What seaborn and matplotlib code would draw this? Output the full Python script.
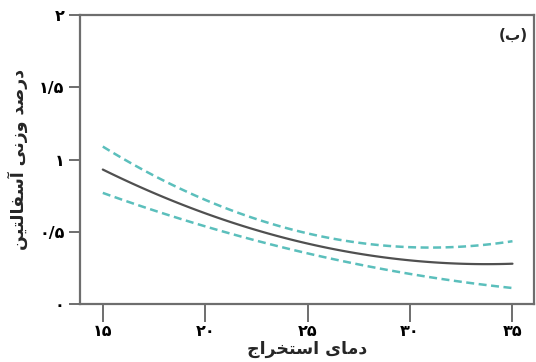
import matplotlib
matplotlib.use("Agg")
import matplotlib.pyplot as plt
import seaborn as sns
import pandas as pd

# Extraction temperature (°C)
temperature = [15, 17.5, 20, 22.5, 25, 27.5, 30, 32.5, 35]
# Asphaltene weight percent and its confidence bounds
fit_mean = [0.93, 0.77, 0.63, 0.51, 0.42, 0.35, 0.30, 0.28, 0.28]
fit_upper = [1.09, 0.89, 0.72, 0.59, 0.49, 0.425, 0.39, 0.40, 0.435]
fit_lower = [0.77, 0.65, 0.535, 0.44, 0.35, 0.275, 0.21, 0.155, 0.11]

x_ticks = [15, 20, 25, 30, 35]
x_tick_labels = ["۱۵", "۲۰", "۲۵", "۳۰", "۳۵"]
y_ticks = [0, 0.5, 1, 1.5, 2]
y_tick_labels = ["۰", "۰/۵", "۱", "۱/۵", "۲"]

# Persian labels written with presentation forms in visual (left-to-right) order
x_label = "\uFE9D\uFE8D\uFEAE\uFEA8\uFE98\uFEB3\uFE8D \uFEEF\uFE8E\uFEE3\uFEA9"
_y_logical = ("\uFEA9\uFEAD\uFEBB\uFEAA " "\uFEED\uFEAF\uFEE7\uFEF0 "
              "\uFE81\uFEB3\uFED4\uFE8E\uFEDF\uFE98\uFEF4\uFEE6")
y_label = _y_logical[::-1]
panel_label = "(\uFE8F)"

sns.set_theme(style="white")
plt.rcParams["font.family"] = ["DejaVu Sans"]

df = pd.DataFrame({"temp": temperature, "mean": fit_mean,
                   "upper": fit_upper, "lower": fit_lower})

fig = plt.figure(figsize=(5.36, 3.62), dpi=100)
ax = fig.add_axes([0.149, 0.160, 0.848, 0.798])

teal = "#5bbfbc"
dash = dict(color=teal, lw=1.8, linestyle=(0, (3.2, 1.8)))
# Smooth quadratic curves through each series
for col, kws in (("upper", dash), ("lower", dash),
                 ("mean", dict(color="#505050", lw=1.6))):
    sns.regplot(data=df, x="temp", y=col, order=2, ci=None, scatter=False,
                truncate=True, ax=ax, line_kws=kws)

ax.set_xlim(13.88, 36.07)
ax.set_ylim(0, 2)
ax.set_xticks(x_ticks)
ax.set_xticklabels(x_tick_labels, fontsize=11.5, fontweight="bold")
ax.set_yticks(y_ticks)
ax.set_yticklabels(y_tick_labels, fontsize=11.5, fontweight="bold")

spine_color = "#6e6e6e"
for s in ax.spines.values():
    s.set_color(spine_color)
    s.set_linewidth(1.6)
ax.tick_params(axis="both", which="major", direction="out", length=8,
               width=1.4, color=spine_color, labelcolor="black", pad=3,
               bottom=True, left=True)
ax.tick_params(axis="x", length=13, pad=1)

ax.set_xlabel(x_label, fontsize=12.5, fontweight="bold", labelpad=1)
ax.set_ylabel(y_label, fontsize=12.5, fontweight="bold", labelpad=8)
ax.text(0.985, 0.955, panel_label, transform=ax.transAxes, ha="right",
        va="top", fontsize=11, fontweight="bold")

fig.savefig("out.png", dpi=100)
